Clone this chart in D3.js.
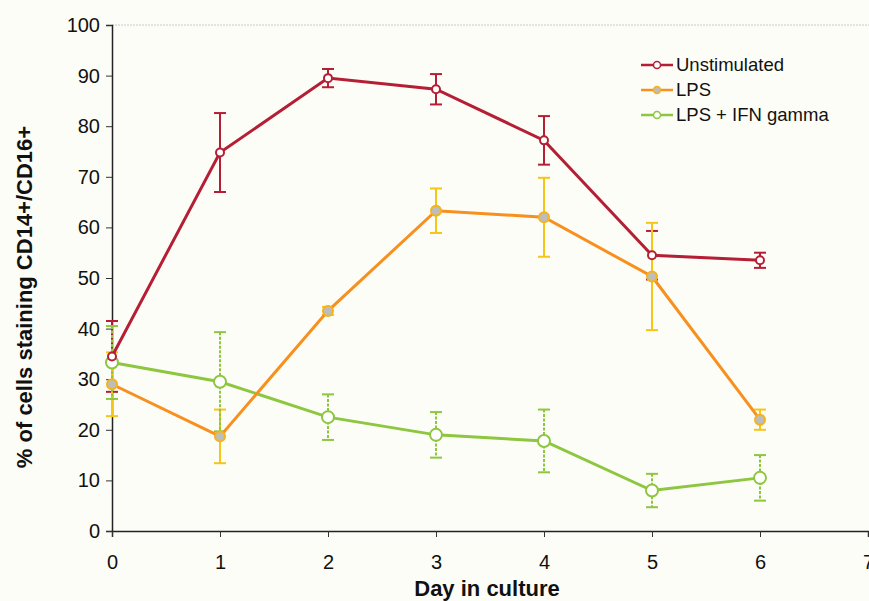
<!DOCTYPE html>
<html><head><meta charset="utf-8">
<script src="https://cdn.jsdelivr.net/npm/d3@7"></script>
<style>html,body{margin:0;padding:0;background:#fdfdf7;}svg{display:block;}</style>
</head><body>
<svg id="c" width="869" height="601"></svg>
<script>
const days = [0,1,2,3,4,5,6];
const xTicks = [0,1,2,3,4,5,6,7];
const yTicks = [0,10,20,30,40,50,60,70,80,90,100];
const seriesNames = ["Unstimulated","LPS","LPS + IFN gamma"];
const unstim = [34.5,74.8,89.5,87.3,77.2,54.5,53.5];
const unstimErr = [7,7.8,1.8,3,4.8,4.8,1.5];
const lps = [29,18.7,43.5,63.3,62,50.3,22];
const lpsErr = [6.3,5.3,0.8,4.4,7.8,10.6,2];
const ifn = [33.3,29.5,22.5,19,17.8,8,10.5];
const ifnErr = [7.2,9.8,4.5,4.5,6.2,3.3,4.5];

const svg = d3.select("#c");
const x = d3.scaleLinear().domain([0,7]).range([112,868]);
const y = d3.scaleLinear().domain([0,100]).range([531,25]);
const font = "Arial, 'Liberation Sans', sans-serif";

// top frame line
svg.append("line").attr("x1",112).attr("x2",869).attr("y1",25).attr("y2",25)
  .attr("stroke","#c8c8c8").attr("stroke-width",1).attr("stroke-dasharray","2,1");

const yAxis = svg.append("g").attr("transform","translate(112,0)")
  .call(d3.axisLeft(y).tickValues(yTicks).tickFormat(d3.format("d")).tickSize(6).tickPadding(6));
const xAxis = svg.append("g").attr("transform","translate(0,531)")
  .call(d3.axisBottom(x).tickValues(xTicks).tickFormat(d3.format("d")).tickSize(6).tickPadding(18));
[yAxis,xAxis].forEach(g=>{
  g.select(".domain").attr("stroke","#222").attr("stroke-width",1.5);
  g.selectAll(".tick line").attr("stroke","#333");
  g.selectAll("text").attr("font-family",font).attr("font-size",20).attr("fill","#111");
});

const series = [
  {name:seriesNames[0], vals:unstim, err:unstimErr, line:"#b51f35", eb:"#b51f35", fill:"#ffffff", stroke:"#b51f35", r:4, dash:null},
  {name:seriesNames[1], vals:lps, err:lpsErr, line:"#f7901e", eb:"#f5c518", fill:"#bdbdbd", stroke:"#f5b21a", r:5, dash:null},
  {name:seriesNames[2], vals:ifn, err:ifnErr, line:"#8dc63f", eb:"#8dc63f", fill:"#ffffff", stroke:"#8dc63f", r:6, dash:"3,1.5"}
];

const lineGen = d3.line().x((d,i)=>x(days[i])).y(d=>y(d));

// error bars
series.forEach(s=>{
  const g = svg.append("g");
  s.vals.forEach((v,i)=>{
    const cx = x(days[i]), hi = y(v+s.err[i]), lo = y(v-s.err[i]);
    g.append("line").attr("x1",cx).attr("x2",cx).attr("y1",hi).attr("y2",lo)
      .attr("stroke",s.eb).attr("stroke-width",2).attr("stroke-dasharray",s.dash);
    [hi,lo].forEach(yy=>g.append("line").attr("x1",cx-6).attr("x2",cx+6).attr("y1",yy).attr("y2",yy)
      .attr("stroke",s.eb).attr("stroke-width",2));
  });
});
// lines & markers (draw in reverse so unstim on top)
series.slice().reverse().forEach(s=>{
  svg.append("path").datum(s.vals).attr("d",lineGen).attr("fill","none")
    .attr("stroke",s.line).attr("stroke-width",3);
  svg.append("g").selectAll("circle").data(s.vals).join("circle")
    .attr("cx",(d,i)=>x(days[i])).attr("cy",d=>y(d)).attr("r",s.r)
    .attr("fill",s.fill).attr("stroke",s.stroke).attr("stroke-width",2);
});

// legend
const lg = svg.append("g");
series.forEach((s,i)=>{
  const ly = 65 + i*25;
  lg.append("line").attr("x1",641).attr("x2",673).attr("y1",ly).attr("y2",ly)
    .attr("stroke",s.line).attr("stroke-width",2.5);
  lg.append("circle").attr("cx",657).attr("cy",ly).attr("r",3.5)
    .attr("fill",s.fill).attr("stroke",s.stroke).attr("stroke-width",1.5);
  lg.append("text").attr("x",676).attr("y",ly+6).text(s.name)
    .attr("font-family",font).attr("font-size",18.5).attr("fill","#111");
});

// axis titles
svg.append("text").attr("x",x(3.5)-3).attr("y",596).attr("text-anchor","middle")
  .attr("font-family",font).attr("font-size",22).attr("font-weight","bold").attr("fill","#111")
  .text("Day in culture");
svg.append("text").attr("transform","translate(32,297) rotate(-90)").attr("text-anchor","middle")
  .attr("font-family",font).attr("font-size",22).attr("font-weight","bold").attr("fill","#111")
  .text("% of cells staining CD14+/CD16+");
</script>
</body></html>
